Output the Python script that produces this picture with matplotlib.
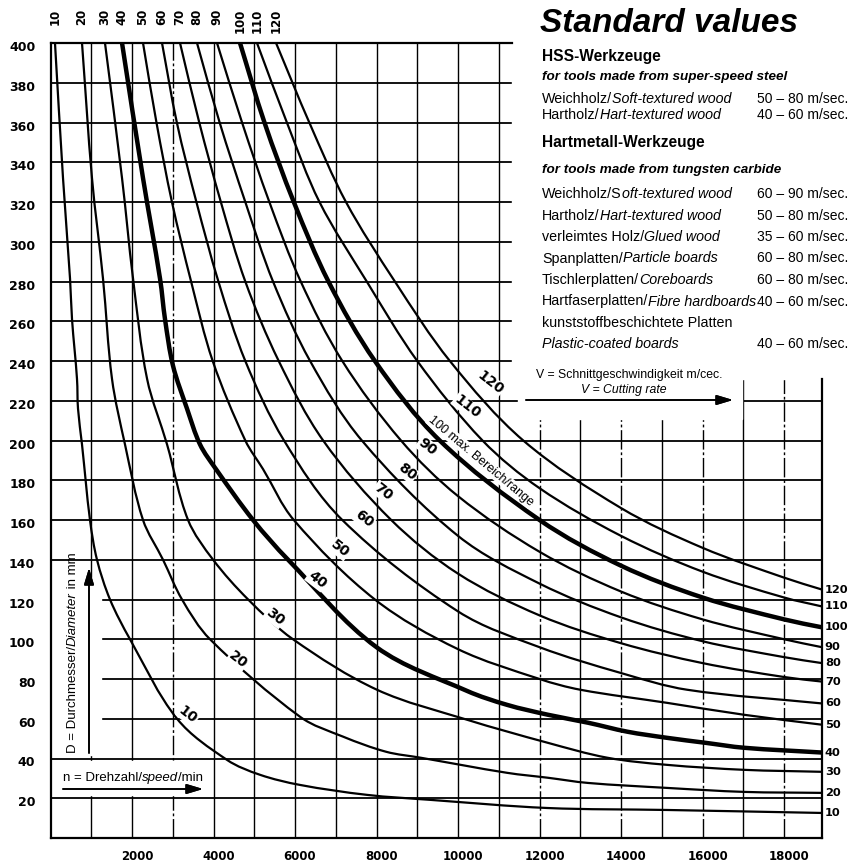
import numpy as np
import matplotlib.pyplot as plt
from matplotlib import font_manager
from matplotlib.patches import Rectangle, PathPatch
from matplotlib.path import Path
from matplotlib.transforms import ScaledTranslation

# cutting speed V (m/sec) of each curve
speeds = [10, 20, 30, 40, 50, 60, 70, 80, 90, 100, 110, 120]
thick = [40, 100]

# points: speed n (1/min) and diameter D (mm)
curve_n = [
    [110, 307, 479, 528, 650, 675, 773, 969, 1141, 1460, 1951, 3105, 4331, 5141,
     6123, 7767, 9313, 12184, 15129, 18930],
    [773, 1018, 1288, 1509, 1828, 2270, 2761, 3227, 3914, 6123, 7178, 8233,
     9080, 11202, 12209, 13190, 15129, 17018, 18930],
    [1337, 1755, 2025, 2370, 2860, 3375, 3990, 4850, 5950, 8010, 10221, 12184,
     13660, 15129, 17018, 18930],
    [1755, 2270, 2687, 2810, 3006, 3350, 3669, 4060, 4970, 5830, 8000, 10221, 11202,
     12209, 13190, 14150, 15129, 16070, 17018, 18930],
    [2270, 2600, 2980, 3450, 3980, 4780, 5215, 5970, 7960, 10000, 12000, 13000, 15129,
     17018, 18930],
    [2736, 3100, 3580, 4120, 4780, 5730, 7160, 10000, 12000, 14000, 15620, 18930],
    [3178, 3650, 4180, 4780, 5600, 6690, 8360, 10000, 12000, 14000, 16000, 18000, 18930],
    [3595, 4150, 4780, 5460, 6370, 7640, 10000, 12000, 14000, 16000, 18000, 18930],
    [4086, 4700, 5370, 6140, 7160, 8600, 10000, 12000, 14000, 16000, 18000, 18930],
    [4650, 5250, 5970, 6820, 7960, 9550, 12000, 14000, 16000, 18000, 18930],
    [5067, 5800, 6600, 7760, 9000, 10600, 12000, 14000, 16000, 18000, 18930],
    [5534, 6350, 7250, 8450, 9800, 11600, 14000, 16000, 18000, 18930],
]
curve_d = [
    [400, 332, 281.5, 261, 231, 216, 198, 160, 140, 120, 100, 60, 39.3, 31.8,
     26.7, 21.7, 19.2, 15.1, 14.1, 12.6],
    [400, 332, 281.5, 231, 198, 160, 140, 120, 100, 61, 51, 43.4,
     40.4, 32.8, 30.3, 27.7, 25.2, 23.2, 22.7],
    [400, 332, 281.5, 231, 198, 160, 140, 120, 100, 74.6, 59.5, 48,
     40.4, 36.8, 34.3, 33.3],
    [400, 332, 281.5, 261, 237.6, 216, 198, 185.6, 160, 140, 96, 74, 67,
     62, 58, 53.5, 50.4, 47.9, 45.4, 43],
    [400, 360, 320, 280, 240, 200, 185.6, 160, 120, 95, 80, 74.6, 68, 62, 57],
    [400, 360, 320, 280, 240, 200, 160, 114, 96, 83, 74.6, 67.7],
    [400, 360, 320, 280, 240, 200, 160, 133, 112, 98, 88, 81, 78.7],
    [400, 360, 320, 280, 240, 200, 152, 128, 111, 99, 91, 88],
    [400, 360, 320, 280, 240, 200, 172, 144, 124, 110, 100, 96],
    [400, 360, 320, 280, 240, 200, 160, 137, 121, 110, 106],
    [400, 360, 320, 280, 240, 200, 176, 152, 134, 121, 116.5],
    [400, 360, 320, 280, 240, 200, 166, 146, 131, 125],
]

d_grid = list(range(20, 400, 20))
n_grid = list(range(1000, 18001, 1000))
n_dashed = [3000, 12000, 14000, 16000, 18000]
x_ticks = list(range(2000, 18001, 2000))
y_ticks = list(range(20, 401, 20))
n_max = 18930

hss_rows = [("Weichholz/", "Soft-textured wood", "50 – 80 m/sec."),
            ("Hartholz/", "Hart-textured wood", "40 – 60 m/sec.")]
hm_rows = [("Weichholz/S", "oft-textured wood", "60 – 90 m/sec."),
           ("Hartholz/", "Hart-textured wood", "50 – 80 m/sec."),
           ("verleimtes Holz/", "Glued wood", "35 – 60 m/sec."),
           ("Spanplatten/", "Particle boards", "60 – 80 m/sec."),
           ("Tischlerplatten/", "Coreboards", "60 – 80 m/sec."),
           ("Hartfaserplatten/", "Fibre hardboards", "40 – 60 m/sec."),
           ("kunststoffbeschichtete Platten", "", ""),
           ("", "Plastic-coated boards", "40 – 60 m/sec.")]

# label positions in figure pixels (from top-left)
curve_label_px = {10: (188, 715), 20: (238, 660), 30: (275, 617), 40: (317, 580),
                  50: (340, 549), 60: (364, 519), 70: (383, 492), 80: (407, 472),
                  90: (427, 447), 110: (467, 407), 120: (490, 383)}

FONT = "Liberation Sans"
bold_num = dict(family="DejaVu Sans", weight="bold")

W, H = 851, 864
ax_box = [50.5, 43, 822, 838]  # left, top, right, bottom in pixels
fig = plt.figure(figsize=(W / 100, H / 100), dpi=100)
ax = fig.add_axes([ax_box[0] / W, 1 - ax_box[3] / H, (ax_box[2] - ax_box[0]) / W,
                   (ax_box[3] - ax_box[1]) / H])
ax.set_xlim(0, n_max)
ax.set_ylim(0, 400)
for s in ax.spines.values():
    s.set_visible(False)
sx = (ax_box[2] - ax_box[0]) / n_max   # pixels per unit, used for curve smoothing
sy = (ax_box[3] - ax_box[1]) / 400


def smooth_path(xs, ys):
    # Bezier path through the read points (tangents from neighbours, in pixel space)
    p = np.column_stack([np.asarray(xs, float) * sx, np.asarray(ys, float) * sy])
    m = len(p)
    tan = np.zeros_like(p)
    for i in range(m):
        t = p[min(i + 1, m - 1)] - p[max(i - 1, 0)]
        tan[i] = t / np.hypot(*t)
    verts, codes = [p[0]], [Path.MOVETO]
    for i in range(m - 1):
        d = np.hypot(*(p[i + 1] - p[i])) / 3
        verts += [p[i] + tan[i] * d, p[i + 1] - tan[i + 1] * d, p[i + 1]]
        codes += [Path.CURVE4] * 3
    return Path(np.array(verts) / [sx, sy], codes)


# grid
ax.hlines(d_grid, 0, n_max, color="black", lw=1.3, zorder=1)
for n in n_grid:
    ls = (0, (14, 2, 2, 2)) if n in n_dashed else "-"
    ax.vlines(n, 0, 400, color="black", lw=1.0, ls=ls, zorder=1)

# blank areas where the original leaves room for text
for (x0, y0, x1, y1) in [(11330, 231, 19500, 410), (11470, 211, 16970, 231),
                         (0, 21.5, 3800, 38.5), (0, 42, 1250, 131)]:
    ax.add_patch(Rectangle((x0, y0), x1 - x0, y1 - y0, color="white", zorder=1.5))

# frame
fr = dict(color="black", lw=1.6, zorder=3, clip_on=False, solid_capstyle="projecting")
ax.plot([0, 0], [0, 400], **fr)
ax.plot([0, n_max], [0, 0], **fr)
ax.plot([0, 11330], [400, 400], **fr)
ax.plot([n_max, n_max], [0, 231], **fr)

# curves
for v, xs, ys in zip(speeds, curve_n, curve_d):
    ax.add_patch(PathPatch(smooth_path(xs, ys), fill=False, ec="black",
                           lw=3.2 if v in thick else 1.6, zorder=2, joinstyle="round"))
    # label at top (rotated) and at right end
    ax.annotate(str(v), xy=(xs[0], 1 - 9 / H),
                xycoords=("data", "figure fraction"), rotation=90,
                ha="center", va="top", fontsize=8.5, **bold_num)
    ax.annotate(str(v), xy=(n_max, ys[-1]), xytext=(2, 0),
                textcoords="offset points", ha="left", va="center",
                fontsize=8.2, annotation_clip=False, **bold_num)

for v, (px, py) in curve_label_px.items():
    fig.text(px / W, 1 - py / H, str(v), rotation=-38, rotation_mode="anchor",
             ha="center", va="center", fontsize=10, zorder=4,
             bbox=dict(fc="white", ec="none", pad=0.5), **bold_num)
fig.text(430 / W, 1 - 418 / H, "100 max. Bereich/range", rotation=-40,
         rotation_mode="anchor", ha="left", va="center", fontsize=9,
         family=FONT, zorder=4, bbox=dict(fc="white", ec="none", pad=0.5))

# ticks
ax.set_xticks(x_ticks)
ax.set_yticks(y_ticks)
ax.tick_params(length=0)
ax.tick_params(axis="x", pad=9)
ax.tick_params(axis="y", pad=11)
for lab in ax.get_xticklabels():
    lab.set_fontproperties(font_manager.FontProperties(family="DejaVu Sans", weight="bold", size=8.5))
    lab.set_transform(lab.get_transform() + ScaledTranslation(0.05, 0, fig.dpi_scale_trans))
for lab in ax.get_yticklabels():
    lab.set_fontproperties(font_manager.FontProperties(family="DejaVu Sans", weight="bold", size=9))
    lab.set_transform(lab.get_transform() + ScaledTranslation(0, -0.03, fig.dpi_scale_trans))

renderer = fig.canvas.get_renderer()


def mixed(x, y, parts, size=10.3, rot=0):
    # parts: (text, style, weight); x, y = left baseline in pixels from top-left
    for s, st, wt in parts:
        if not s:
            continue
        t = fig.text(x / W, 1 - y / H, s, fontsize=size, style=st, weight=wt,
                     family=FONT, rotation=rot, rotation_mode="anchor",
                     ha="left", va="baseline", zorder=4)
        bb = t.get_window_extent(renderer)
        if rot == 0:
            x += bb.width
        else:
            y -= bb.height


fig.text(540 / W, 1 - 32 / H, "Standard values", fontsize=24, weight="bold",
         style="italic", family=FONT, va="baseline")
mixed(542, 61, [("HSS-Werkzeuge", "normal", "bold")], size=11.2)
mixed(542, 80, [("for tools made from super-speed steel", "italic", "bold")], size=9.7)
for k, (a, b, c) in enumerate(hss_rows):
    mixed(542, 103 + 16.3 * k, [(a, "normal", "normal"), (b, "italic", "normal")])
    mixed(757, 103 + 16.3 * k, [(c, "normal", "normal")], size=10)
mixed(542, 147, [("Hartmetall-Werkzeuge", "normal", "bold")], size=11.2)
mixed(542, 173, [("for tools made from tungsten carbide", "italic", "bold")], size=9.7)
for k, (a, b, c) in enumerate(hm_rows):
    mixed(542, 198 + 21.5 * k, [(a, "normal", "normal"), (b, "italic", "normal")])
    mixed(757, 198 + 21.5 * k, [(c, "normal", "normal")], size=10)

fig.text(722 / W, 1 - 378 / H, "V = Schnittgeschwindigkeit m/cec.", fontsize=8.8,
         family=FONT, ha="right", va="baseline")
fig.text(667 / W, 1 - 393 / H, "V = Cutting rate", fontsize=8.8, style="italic",
         family=FONT, ha="right", va="baseline")
mixed(63, 781, [("n = Drehzahl/", "normal", "normal"), ("speed", "italic", "normal"),
                ("/min", "normal", "normal")], size=9.5)
mixed(76, 753, [("D = Durchmesser/", "normal", "normal"), ("Diameter", "italic", "normal"),
                (" in mm", "normal", "normal")], size=9.5, rot=90)

arrow = dict(arrowstyle="-|>,head_length=1.0,head_width=0.3", color="black", lw=1.2,
             shrinkA=0, shrinkB=0)
for (x0, y0, x1, y1) in [(526, 400, 733, 400), (63, 789, 203, 789), (89, 753, 89, 568)]:
    fig.add_artist(plt.annotate("", xy=(x1, H - y1), xytext=(x0, H - y0),
                                xycoords="figure pixels", arrowprops=arrow))

fig.savefig("out.png", dpi=100)
